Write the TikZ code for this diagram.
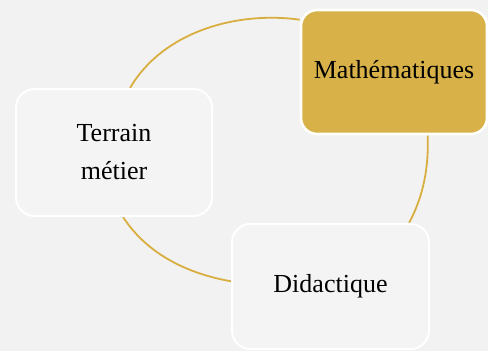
\documentclass[tikz,border=0pt]{standalone}
\usepackage{fontspec}
\setmainfont{Liberation Serif}
\usetikzlibrary{backgrounds}
\definecolor{bg}{HTML}{F2F2F2}
\definecolor{boxfill}{HTML}{F4F4F4}
\definecolor{gold}{HTML}{D8B248}
\definecolor{arcgold}{HTML}{D9AE40}
\begin{document}
\begin{tikzpicture}[x=0.75pt,y=-0.75pt,
  box/.style={draw=white, rounded corners=14pt, inner sep=0pt, align=center,
    font=\fontsize{19.5}{28.5}\selectfont, text=black},
  lightbox/.style={box, fill=boxfill, line width=1.5pt},
  goldbox/.style={box, fill=gold, line width=2pt, rounded corners=12pt},
  link/.style={draw=arcgold, line width=1.35pt, looseness=0.9}]
\useasboundingbox (0,0) rectangle (488,351);
\node[goldbox, minimum width=139.5pt, minimum height=93pt] (math) at (394,72) {Mathématiques};
\node[lightbox, minimum width=147pt, minimum height=95.25pt] (terrain) at (114,152.5) {Terrain\\métier};
\node[lightbox, minimum width=147.75pt, minimum height=94pt] (did) at (330.5,286.5) {Didactique};
\begin{scope}[on background layer]
\fill[bg] (0,0) rectangle (488,351);
\draw[link] (terrain.76) to[out=60, in=172] (math.151);
\draw[link] (math.-62) to[out=-88, in=62] (did.39.5);
\draw[link] (terrain.-82) to[out=-57, in=170] (did.177);
\end{scope}
\end{tikzpicture}
\end{document}
